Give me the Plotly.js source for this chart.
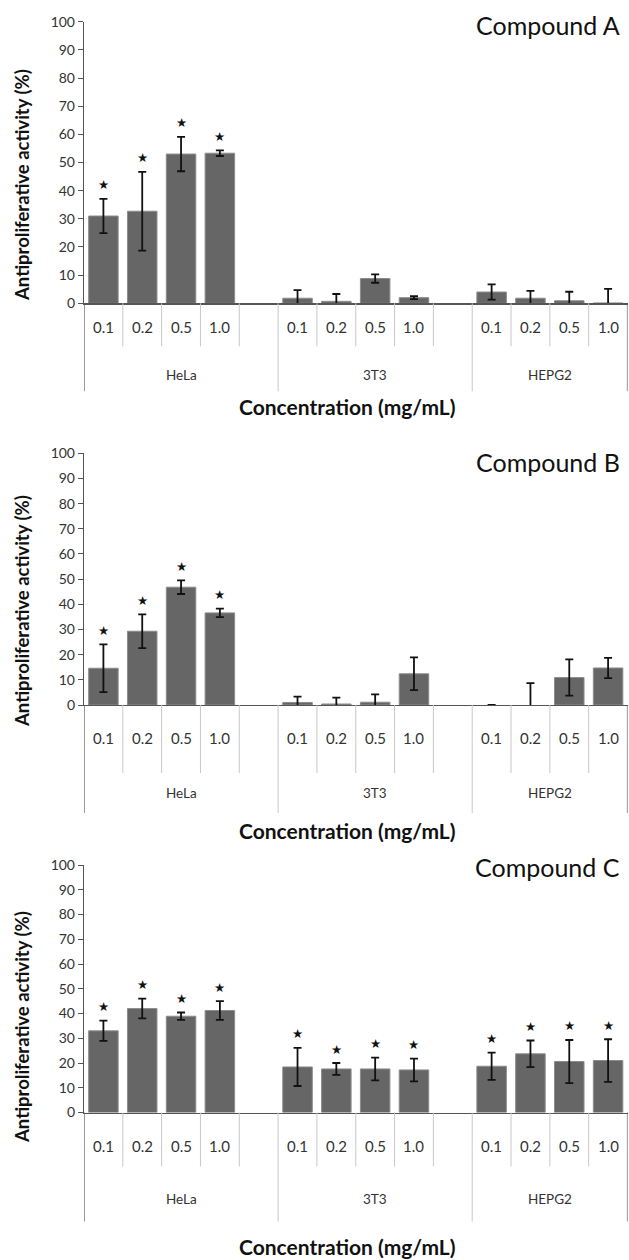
<!DOCTYPE html>
<html>
<head>
<meta charset="utf-8">
<script src="https://cdn.plot.ly/plotly-3.0.1.min.js"></script>
<style>html,body{margin:0;padding:0;background:#fff;}#chart{width:629px;height:1260px;}</style>
</head>
<body>
<div id="chart"></div>
<script>
// ---- data ----
const cellLines = ['HeLa', '3T3', 'HEPG2'];
const concentrations = ['0.1', '0.2', '0.5', '1.0'];
const compoundNames = ['Compound A', 'Compound B', 'Compound C'];

const meanA = [31.0, 32.7, 53.0, 53.3, 1.8, 0.7, 8.8, 2.0, 4.0, 1.8, 0.9, 0.1];
const errA  = [6.1, 14.0, 6.1, 1.0, 2.9, 2.6, 1.5, 0.5, 2.7, 2.6, 3.2, 5.0];
const sigA  = [1, 1, 1, 1, 0, 0, 0, 0, 0, 0, 0, 0];

const meanB = [14.6, 29.3, 46.8, 36.6, 1.0, 0.4, 1.1, 12.4, 0, 0, 10.9, 14.7];
const errB  = [9.5, 6.7, 2.7, 1.7, 2.3, 2.5, 3.1, 6.5, 0, 8.7, 7.2, 4.0];
const sigB  = [1, 1, 1, 1, 0, 0, 0, 0, 0, 0, 0, 0];

const meanC = [33.0, 42.0, 38.9, 41.2, 18.4, 17.6, 17.6, 17.2, 18.7, 23.7, 20.6, 21.0];
const errC  = [4.1, 4.0, 1.5, 3.8, 7.7, 2.4, 4.6, 4.6, 5.5, 5.4, 8.7, 8.6];
const sigC  = [1, 1, 1, 1, 1, 1, 1, 1, 1, 1, 1, 1];

const yTicks = [0, 10, 20, 30, 40, 50, 60, 70, 80, 90, 100];
const xTitle = 'Concentration (mg/mL)';
const yTitle = 'Antiproliferative activity (%)';

// ---- layout helpers (pixel positions of the page) ----
const H = 1260, W = 629;
const FONT = 'Lato, "Open Sans", sans-serif';
const py = p => 1 - p / H;
const px = p => p / W;
const slotsPerGroup = 5;

const panels = [
  {mean: meanA, err: errA, sig: sigA, zero: 303.3, top: 21.7, lab: 24, inner: 43, grp: 72, bound: 88, xt: 103, title: 25, ytc: 185},
  {mean: meanB, err: errB, sig: sigB, zero: 705, top: 453.3, lab: 33, inner: 68, grp: 88, bound: 108, xt: 125, title: 462, ytc: 611},
  {mean: meanC, err: errC, sig: sigC, zero: 1112.5, top: 865, lab: 33, inner: 54, grp: 86, bound: 109, xt: 134, title: 867, ytc: 1027}
];

// category positions
const xPos = [], xLab = [];
cellLines.forEach((g, gi) => concentrations.forEach((c, ci) => { xPos.push(gi * slotsPerGroup + ci); xLab.push(c); }));
const xMax = (cellLines.length - 1) * slotsPerGroup + concentrations.length - 0.5;

const traces = [], annotations = [], shapes = [];
const layout = {
  width: W, height: H, margin: {l: 0, r: 0, t: 0, b: 0},
  paper_bgcolor: '#fff', plot_bgcolor: 'rgba(0,0,0,0)',
  showlegend: false, font: {family: FONT, color: '#222'}
};

panels.forEach((p, i) => {
  const n = i === 0 ? '' : String(i + 1);
  const xa = 'x' + n, ya = 'y' + n;
  traces.push({
    type: 'bar', x: xPos, y: p.mean, xaxis: xa, yaxis: ya,
    width: 0.76,
    marker: {color: '#666666', line: {color: '#8c8c8c', width: p.mean.map(m => (m > 0 ? 1 : 0))}},
    error_y: {type: 'data', array: p.err, visible: true, color: '#111', thickness: 1.8, width: 4},
    hoverinfo: 'skip'
  });
  layout['xaxis' + n] = {
    domain: [px(84), px(627.5)], range: [-0.5, xMax], anchor: ya,
    showticklabels: false, ticks: '', showgrid: false, zeroline: false,
    showline: true, linecolor: '#555', linewidth: 1.2, fixedrange: true
  };
  layout['yaxis' + n] = {
    domain: [py(p.zero), py(p.top)], range: [0, 100], anchor: xa,
    tickmode: 'array', tickvals: yTicks, ticktext: yTicks.map(String),
    ticks: 'outside', ticklen: 5, tickcolor: '#555', tickwidth: 1,
    showline: true, linecolor: '#555', linewidth: 1.2,
    showgrid: false, zeroline: false, fixedrange: true,
    tickfont: {family: FONT, size: 14, color: '#333'}
  };
  // stars
  p.mean.forEach((m, k) => {
    if (p.sig[k]) annotations.push({
      xref: xa, yref: ya, x: xPos[k], y: m + p.err[k], text: '★',
      showarrow: false, yanchor: 'middle', yshift: 14,
      font: {family: 'DejaVu Sans', size: 12.5, color: '#111'}
    });
  });
  // concentration labels
  xPos.forEach((x, k) => annotations.push({
    xref: xa, yref: 'paper', x: x, y: py(p.zero + p.lab), text: xLab[k],
    showarrow: false, xanchor: 'center', yanchor: 'middle',
    font: {family: FONT, size: 15, color: '#333'}
  }));
  // group labels and dividers
  cellLines.forEach((g, gi) => {
    const start = gi * slotsPerGroup - 0.5;
    const nCells = gi === cellLines.length - 1 ? concentrations.length : slotsPerGroup;
    const end = start + nCells;
    annotations.push({
      xref: xa, yref: 'paper', x: (start + end) / 2, y: py(p.zero + p.grp), text: g,
      showarrow: false, xanchor: 'center', yanchor: 'middle',
      font: {family: FONT, size: 13.5, color: '#333'}
    });
    for (let k = 1; k < nCells; k++) {
      shapes.push({type: 'line', xref: xa, yref: 'paper', x0: start + k, x1: start + k,
        y0: py(p.zero), y1: py(p.zero + p.inner), line: {color: '#c8c8c8', width: 1}});
    }
    shapes.push({type: 'line', xref: xa, yref: 'paper', x0: start, x1: start,
      y0: py(p.zero), y1: py(p.zero + p.bound), line: {color: gi === 0 ? '#555' : '#c8c8c8', width: gi === 0 ? 1.2 : 1}});
    if (gi === cellLines.length - 1) {
      shapes.push({type: 'line', xref: xa, yref: 'paper', x0: end, x1: end,
        y0: py(p.zero), y1: py(p.zero + p.bound), line: {color: '#555', width: 1.2}});
    }
  });
  // axis titles and compound title
  annotations.push({
    xref: 'paper', yref: 'paper', x: px(348), y: py(p.zero + p.xt), text: xTitle,
    showarrow: false, xanchor: 'center', yanchor: 'middle',
    font: {family: FONT, size: 21, color: '#111', weight: 'bold'}
  });
  annotations.push({
    xref: 'paper', yref: 'paper', x: px(22), y: py(p.ytc), text: yTitle, textangle: -90,
    showarrow: false, xanchor: 'center', yanchor: 'middle',
    font: {family: FONT, size: 18.5, color: '#111', weight: 'bold'}
  });
  annotations.push({
    xref: 'paper', yref: 'paper', x: px(621.5), y: py(p.title), text: compoundNames[i],
    showarrow: false, xanchor: 'right', yanchor: 'middle',
    font: {family: FONT, size: 25, color: '#111'}
  });
});

layout.annotations = annotations;
layout.shapes = shapes;
Plotly.newPlot('chart', traces, layout, {staticPlot: true, displayModeBar: false});
</script>
</body>
</html>
